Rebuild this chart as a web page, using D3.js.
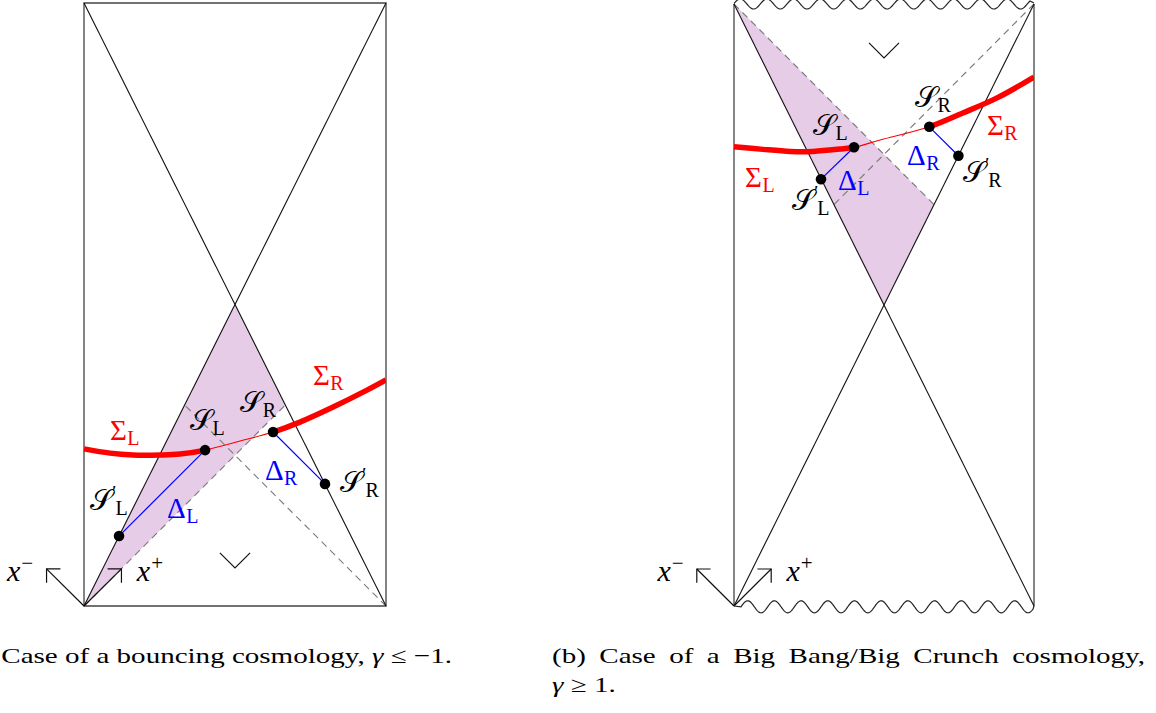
<!DOCTYPE html>
<html><head><meta charset="utf-8">
<script src="https://cdn.jsdelivr.net/npm/d3@7"></script>
<style>body{margin:0;background:#fff} svg{display:block}</style>
</head><body>
<svg id="c" width="1156" height="713"></svg>
<script>
// ---------- data (diagram units: u across 0..1, v up 0..2) ----------
const diagonals = [[[0,0],[1,2]], [[1,0],[0,2]]];

// (a) bouncing cosmology
const bounceShade  = [[0,0],[0.5,1],[2/3,2/3]];
const bounceDashed = [[[0,0],[2/3,2/3]], [[1,0],[1/3,2/3]]];
const bounceSigma  = [[0,0.521],[0.086,0.507],[0.162,0.501],[0.252,0.501],[0.318,0.504],[0.401,0.517],
                      [0.517,0.547],[0.626,0.577],[0.715,0.610],[0.825,0.660],[0.937,0.716],[1,0.750]];
const bounceSL  = [0.401,0.517], bounceSR  = [0.626,0.577];
const bounceSLp = [0.116,0.232], bounceSRp = [0.798,0.405];
const bounceVee = [[0.45,0.176],[0.5,0.126],[0.55,0.176]];
const bounceLabels = [
  {m:'Σ', s:'L', c:'#ff0000', at:[0.086,0.551]},
  {m:'𝒮', s:'L', c:'#000', at:[0.351,0.584]},
  {m:'𝒮', s:'R', c:'#000', at:[0.517,0.643]},
  {m:'Σ', s:'R', c:'#ff0000', at:[0.758,0.733]},
  {m:'Δ', s:'R', c:'#0000ff', at:[0.599,0.418]},
  {m:'𝒮', s:'R', p:true, c:'#000', at:[0.848,0.378]},
  {m:'𝒮', s:'L', p:true, c:'#000', at:[0.020,0.318]},
  {m:'Δ', s:'L', c:'#0000ff', at:[0.275,0.292]}
];

// (b) Big Bang / Big Crunch
const crunchShade  = [[0,2],[0.5,1],[2/3,4/3]];
const crunchDashed = [[[0,2],[2/3,4/3]], [[1,2],[1/3,4/3]]];
const crunchSigma  = [[0,1.526],[0.097,1.517],[0.187,1.510],[0.243,1.509],[0.353,1.518],[0.400,1.524],
                      [0.487,1.548],[0.651,1.592],[0.763,1.638],[0.877,1.688],[1,1.757]];
const crunchSL  = [0.400,1.524], crunchSR  = [0.651,1.592];
const crunchSLp = [0.290,1.418], crunchSRp = [0.748,1.496];
const crunchVee = [[0.45,1.871],[0.5,1.821],[0.55,1.871]];
const crunchLabels = [
  {m:'𝒮', s:'R', c:'#000', at:[0.603,1.658]},
  {m:'𝒮', s:'L', c:'#000', at:[0.263,1.565]},
  {m:'Σ', s:'R', c:'#ff0000', at:[0.843,1.565]},
  {m:'Σ', s:'L', c:'#ff0000', at:[0.037,1.392]},
  {m:'𝒮', s:'L', p:true, c:'#000', at:[0.193,1.316]},
  {m:'Δ', s:'L', c:'#0000ff', at:[0.347,1.382]},
  {m:'Δ', s:'R', c:'#0000ff', at:[0.577,1.465]},
  {m:'𝒮', s:'R', p:true, c:'#000', at:[0.763,1.409]}
];

// light-cone coordinate arrows at the bottom-left corner
const arrowMinus = {shaft:[[0,0],[-0.124,0.123]], head:[[-0.078,0.123],[-0.124,0.123],[-0.124,0.077]], label:[-0.255,0.083], sup:'−'};
const arrowPlus  = {shaft:[[0,0],[0.124,0.123]],  head:[[0.078,0.123],[0.124,0.123],[0.124,0.077]],  label:[0.175,0.083], sup:'+'};

const captionA  = ['Case of a bouncing cosmology, ', 'γ', ' ≤ −1.'];
const captionB1 = '(b) Case of a Big Bang/Big Crunch cosmology,';
const captionB2 = ['γ', ' ≥ 1.'];

// ---------- drawing ----------
const svg = d3.select('#c');
const defs = svg.append('defs');
const SERIF = "Liberation Serif";
const MATHS = "Liberation Serif, DejaVu Serif, DejaVu Sans, serif";

function drawDiagram(id, xr, yr, d) {
  const x = d3.scaleLinear().domain([0,1]).range(xr);
  const y = d3.scaleLinear().domain([0,2]).range(yr);
  const line = d3.line().x(p=>x(p[0])).y(p=>y(p[1]));
  const g = svg.append('g');

  g.append('path').attr('d', line(d.shade)+'Z').attr('fill','#e6cce6');
  d.dashed.forEach(s => g.append('path').attr('d', line(s)).attr('fill','none')
      .attr('stroke','#7a7a7a').attr('stroke-width',1.1).attr('stroke-dasharray','7,5'));

  // frame
  if (d.wavy) {
    g.append('path').attr('d', line([[0,0],[0,2]])).attr('stroke','#444').attr('stroke-width',1.3);
    g.append('path').attr('d', line([[1,0],[1,2]])).attr('stroke','#444').attr('stroke-width',1.3);
    const P = 26.7;
    const top = [];
    for (let px = x(0); px <= x(1)-4; px += 0.5)
      top.push([px, y(2) + 5*Math.cos(2*Math.PI*(px-(x(0)+19.6))/P)]);
    top.push([x(1), y(2)-1]);
    const bot = [[x(0), y(0)]];
    for (let px = x(0)+7; px <= x(1)-1; px += 0.5)
      bot.push([px, y(0) + 0.8 - 6*Math.sin(2*Math.PI*(px-(x(0)+7))/P)]);
    bot.push([x(1), y(0)]);
    const pl = d3.line().curve(d3.curveLinear);
    g.append('path').attr('d', pl(top)).attr('fill','none').attr('stroke','#222').attr('stroke-width',1.2);
    g.append('path').attr('d', pl(bot)).attr('fill','none').attr('stroke','#222').attr('stroke-width',1.2);
  } else {
    g.append('path').attr('d', line([[0,0],[1,0],[1,2],[0,2]])+'Z').attr('fill','none')
      .attr('stroke','#444').attr('stroke-width',1.3);
  }
  diagonals.forEach(s => g.append('path').attr('d', line(s)).attr('fill','none')
      .attr('stroke','#111').attr('stroke-width',1.1));

  // vee marker
  g.append('path').attr('d', line(d.vee)).attr('fill','none').attr('stroke','#111').attr('stroke-width',1.2);

  // arrows
  [arrowMinus, arrowPlus].forEach(a => {
    g.append('path').attr('d', line(a.shaft)).attr('fill','none').attr('stroke','#111').attr('stroke-width',1.2);
    g.append('path').attr('d', line(a.head)).attr('fill','none').attr('stroke','#111').attr('stroke-width',1.2);
    const px = x(a.label[0]), py = y(a.label[1]);
    const t = g.append('text').attr('x', px).attr('y', py).attr('font-family', SERIF).attr('font-size',30);
    const m = t.append('tspan').attr('font-style','italic').text('x');
    const w = m.node().getComputedTextLength();
    t.append('tspan').attr('x', px+w+1).attr('dy', -11).attr('font-size',21).text(a.sup);
  });

  // blue segments
  g.append('path').attr('d', line([d.SLp, d.SL])).attr('stroke','#0000ff').attr('stroke-width',1.2);
  g.append('path').attr('d', line([d.SR, d.SRp])).attr('stroke','#0000ff').attr('stroke-width',1.2);

  // Sigma curve: thin throughout, thick outside [S_L, S_R]
  const curve = d3.line().x(p=>x(p[0])).y(p=>y(p[1])).curve(d3.curveCatmullRom.alpha(0.5));
  g.append('path').attr('d', curve(d.sigma)).attr('fill','none').attr('stroke','#ff0000').attr('stroke-width',1.1);
  const cl = defs.append('clipPath').attr('id', id+'cl');
  cl.append('rect').attr('x', x(0)-20).attr('y', 0).attr('width', x(d.SL[0])-x(0)+20).attr('height', 713);
  const cr = defs.append('clipPath').attr('id', id+'cr');
  cr.append('rect').attr('x', x(d.SR[0])).attr('y', 0).attr('width', x(1)-x(d.SR[0])).attr('height', 713);
  ['cl','cr'].forEach(k => g.append('path').attr('d', curve(d.sigma)).attr('fill','none')
      .attr('stroke','#ff0000').attr('stroke-width',5.5).attr('clip-path', `url(#${id}${k})`));

  // dots
  [d.SL, d.SR, d.SLp, d.SRp].forEach(p => g.append('circle').attr('cx', x(p[0])).attr('cy', y(p[1])).attr('r',5.3).attr('fill','#000'));

  // labels (one text element each: symbol, optional prime, subscript)
  d.labels.forEach(L => {
    const px = x(L.at[0]), py = y(L.at[1]);
    const t = g.append('text').attr('x',px).attr('y',py).attr('fill',L.c);
    const m = t.append('tspan').attr('font-family', MATHS).attr('font-size',29).text(L.m);
    const w = m.node().getComputedTextLength();
    if (L.p) {
      const pr = t.append('tspan').attr('x',px+w).attr('dy',-10).attr('font-family',MATHS).attr('font-size',20).text('′');
      const pw = pr.node().getComputedTextLength();
      t.append('tspan').attr('x',px+w+pw-1).attr('dy',15).attr('font-family',SERIF).attr('font-size',20).text(L.s);
    } else {
      t.append('tspan').attr('x',px+w+0.5).attr('dy',5).attr('font-family',SERIF).attr('font-size',20).text(L.s);
    }
  });
}

drawDiagram('a', [84,386], [606,3], {shade:bounceShade, dashed:bounceDashed, sigma:bounceSigma,
  SL:bounceSL, SR:bounceSR, SLp:bounceSLp, SRp:bounceSRp, vee:bounceVee, labels:bounceLabels, wavy:false});
drawDiagram('b', [734,1034], [606,4], {shade:crunchShade, dashed:crunchDashed, sigma:crunchSigma,
  SL:crunchSL, SR:crunchSR, SLp:crunchSLp, SRp:crunchSRp, vee:crunchVee, labels:crunchLabels, wavy:true});

// captions
const FS = 22;
function capText(g, parts, anchor) {
  const t = g.append('text').attr('font-family', SERIF).attr('font-size', FS).attr('text-anchor', anchor);
  parts.forEach(s => t.append('tspan').attr('font-style', s==='γ' ? 'italic' : 'normal').text(s));
  return t;
}
const gA = svg.append('g');
const tA = capText(gA, captionA, 'end');
const wA = tA.node().getComputedTextLength();
const sx = 451 / wA;
gA.attr('transform', `translate(452,663) scale(${sx},1)`);

const gB = svg.append('g').attr('transform', `translate(552,663) scale(${sx},1)`);
const tB = capText(gB, [captionB1], 'start');
const wB = tB.node().getComputedTextLength();
const nSp = captionB1.split(' ').length - 1;
tB.style('word-spacing', ((593/sx - wB)/nSp) + 'px');
const gB2 = svg.append('g').attr('transform', `translate(552,692) scale(${sx},1)`);
capText(gB2, captionB2, 'start');
</script>
</body></html>
